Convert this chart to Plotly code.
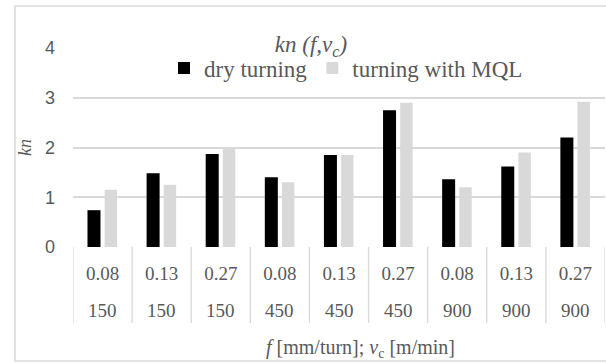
import plotly.graph_objects as go

feed = ["0.08", "0.13", "0.27", "0.08", "0.13", "0.27", "0.08", "0.13", "0.27"]
speed = ["150", "150", "150", "450", "450", "450", "900", "900", "900"]
dry = [0.74, 1.48, 1.87, 1.40, 1.85, 2.75, 1.36, 1.62, 2.20]
mql = [1.15, 1.25, 2.00, 1.30, 1.85, 2.90, 1.20, 1.90, 2.92]
series_names = ["dry turning", "turning with MQL"]
y_ticks = [0, 1, 2, 3, 4]

cats = list(range(len(feed)))

W, H = 606, 363
L, R, T, B = 73, 1, 48, 116
ph = H - T - B

def py(px):
    return (H - B - px) / ph

def pxx(px):
    return (px - L) / (W - L - R)

serif = "Liberation Serif"
grey_txt = "#595959"
grid = "#d9d9d9"

fig = go.Figure()
fig.add_trace(go.Bar(x=cats, y=dry, name=series_names[0], marker_color="#000000",
                     marker_line_width=0, width=0.22, offset=-0.255))
fig.add_trace(go.Bar(x=cats, y=mql, name=series_names[1], marker_color="#d9d9d9",
                     marker_line_width=0, width=0.21, offset=0.035))

shapes = []
for i in range(len(cats) + 1):
    shapes.append(dict(type="line", xref="x", yref="paper", x0=i - 0.5, x1=i - 0.5,
                       y0=0, y1=py(323), line=dict(color=grid, width=1.3), layer="below"))
shapes.append(dict(type="rect", xref="paper", yref="paper", x0=pxx(15), x1=pxx(640),
                   y0=py(361), y1=py(6), line=dict(color=grid, width=1.5), layer="below"))

annotations = []
for c, s in zip(cats, speed):
    annotations.append(dict(x=c, y=py(310), xref="x", yref="paper", text=s, showarrow=False,
                            yanchor="middle", font=dict(family=serif, size=19, color=grey_txt)))
annotations.append(dict(x=pxx(360), y=py(348), xref="paper", yref="paper",
                        text="<i>f</i> [mm/turn]; <i>v</i><sub>c</sub> [m/min]", showarrow=False,
                        yanchor="middle", font=dict(family=serif, size=20, color=grey_txt)))

fig.update_layout(
    width=W, height=H,
    margin=dict(l=L, r=R, t=T, b=B),
    paper_bgcolor="white", plot_bgcolor="white",
    barmode="overlay",
    title=dict(text="<i>kn (f,v<sub>c</sub>)</i>", x=311 / W, xanchor="center",
               y=1 - 44 / H, yanchor="middle", xref="container", yref="container",
               font=dict(family=serif, size=23, color=grey_txt)),
    legend=dict(orientation="h", x=pxx(346), xanchor="center", y=py(68), yanchor="middle",
                bgcolor="rgba(0,0,0,0)", font=dict(family=serif, size=23, color=grey_txt),
                itemwidth=30, traceorder="normal"),
    shapes=shapes,
    annotations=annotations,
    showlegend=True,
)
fig.update_xaxes(type="linear", range=[-0.5, len(cats) - 0.5], tickmode="array",
                 tickvals=cats, ticktext=feed, showgrid=False, zeroline=False,
                 showline=False, ticks="", ticklabelstandoff=13,
                 tickfont=dict(family=serif, size=19, color=grey_txt))
fig.update_yaxes(range=[0, 4], tickmode="array", tickvals=y_ticks, showgrid=True,
                 gridcolor=grid, gridwidth=1.5, zeroline=False, showline=False, ticks="",
                 ticklabelstandoff=17,
                 tickfont=dict(family="Liberation Sans", size=18, color=grey_txt),
                 title=dict(text="<i>kn</i>", standoff=8,
                            font=dict(family=serif, size=18, color=grey_txt)))

fig.write_html("out.html", post_script="document.body.style.margin='0';",
               config={"displayModeBar": False})
